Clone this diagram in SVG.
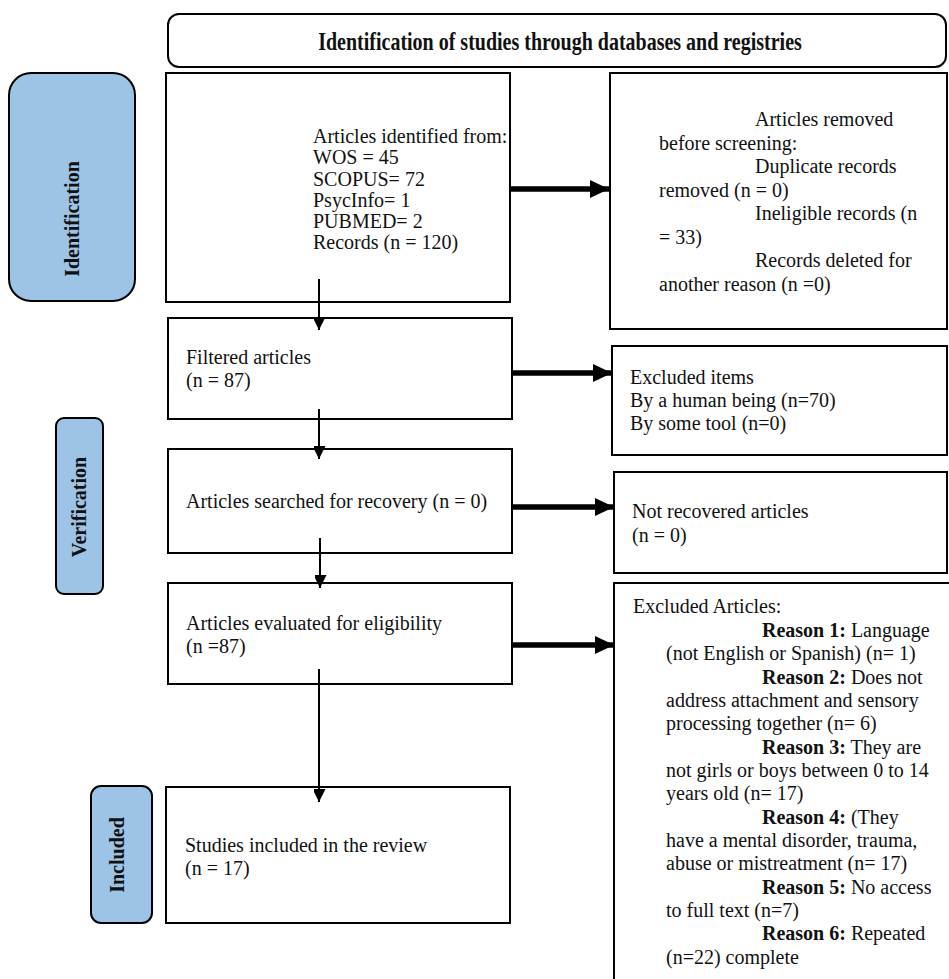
<svg xmlns="http://www.w3.org/2000/svg" width="949" height="979" viewBox="0 0 949 979">
<defs>
<style>
.box{fill:#fff;stroke:#000;stroke-width:2}
.side{fill:#9dc3e6;stroke:#000;stroke-width:2}
.t{font-family:"Liberation Serif","Times New Roman",serif;font-size:20px;fill:#111}
.b{font-weight:bold}
.thin{stroke:#000;stroke-width:2;fill:none}
.thick{stroke:#000;stroke-width:5.5;fill:none}
</style>
<marker id="hv" markerUnits="userSpaceOnUse" markerWidth="14" markerHeight="12" refX="13" refY="6.5" orient="auto"><path d="M0,0 L13,6.5 L0,13 Z" fill="#000"/></marker>
<marker id="hh" markerUnits="userSpaceOnUse" markerWidth="20" markerHeight="18" refX="19" refY="9" orient="auto"><path d="M0,0 L19,9 L0,18 Z" fill="#000"/></marker>
</defs>
<rect width="949" height="979" fill="#fff"/>

<g id="header">
<rect class="box" x="168" y="14" width="778" height="53" rx="11"/>
<text class="t b" text-anchor="middle" font-size="20.5" transform="translate(560,50) scale(1,1.3)">Identification of studies through databases and registries</text>
</g>

<g id="stage-identification">
<rect class="side" x="9" y="73" width="126" height="228" rx="22"/>
<text class="t b" text-anchor="middle" transform="translate(79,219) rotate(-90)">Identification</text>
</g>
<g id="stage-verification">
<rect class="side" x="56" y="418" width="47" height="176" rx="8"/>
<text class="t b" text-anchor="middle" transform="translate(86,507) rotate(-90)">Verification</text>
</g>
<g id="stage-included">
<rect class="side" x="91" y="786" width="61" height="137" rx="10"/>
<text class="t b" text-anchor="middle" transform="translate(124,855) rotate(-90)">Included</text>
</g>

<g id="identified">
<rect class="box" x="166" y="73" width="344" height="229"/>
<text class="t" x="313" y="143">Articles identified from:</text>
<text class="t" x="313" y="164">WOS = 45</text>
<text class="t" x="313" y="185.5">SCOPUS= 72</text>
<text class="t" x="313" y="206.5">PsycInfo= 1</text>
<text class="t" x="313" y="228">PUBMED= 2</text>
<text class="t" x="313" y="249">Records (n = 120)</text>
</g>

<g id="removed">
<rect class="box" x="610" y="73" width="337" height="256"/>
<text class="t" x="755" y="126">Articles removed</text>
<text class="t" x="659" y="149.5">before screening:</text>
<text class="t" x="755" y="173">Duplicate records</text>
<text class="t" x="659" y="196.5">removed (n = 0)</text>
<text class="t" x="755" y="220">Ineligible records (n</text>
<text class="t" x="659" y="243.5">= 33)</text>
<text class="t" x="755" y="267">Records deleted for</text>
<text class="t" x="659" y="290.5">another reason (n =0)</text>
</g>

<g id="filtered">
<rect class="box" x="168" y="318" width="344" height="101"/>
<text class="t" x="186" y="364">Filtered articles</text>
<text class="t" x="186" y="387">(n = 87)</text>
</g>

<g id="excluded-items">
<rect class="box" x="612" y="346" width="335" height="109"/>
<text class="t" x="630" y="384">Excluded items</text>
<text class="t" x="630" y="407">By a human being (n=70)</text>
<text class="t" x="630" y="430">By some tool (n=0)</text>
</g>

<g id="recovery">
<rect class="box" x="168" y="449" width="344" height="104"/>
<text class="t" x="186" y="508">Articles searched for recovery (n = 0)</text>
</g>

<g id="not-recovered">
<rect class="box" x="614" y="472" width="333" height="101"/>
<text class="t" x="632" y="518">Not recovered articles</text>
<text class="t" x="632" y="542">(n = 0)</text>
</g>

<g id="eligibility">
<rect class="box" x="168" y="583" width="344" height="101"/>
<text class="t" x="186" y="630">Articles evaluated for eligibility</text>
<text class="t" x="186" y="653">(n =87)</text>
</g>

<g id="excluded-articles">
<rect class="box" x="614" y="583" width="340" height="410"/>
<text class="t" x="633" y="613">Excluded Articles:</text>
<text class="t" x="762" y="637"><tspan class="b">Reason 1:</tspan> Language</text>
<text class="t" x="666" y="660">(not English or Spanish) (n= 1)</text>
<text class="t" x="762" y="683.5"><tspan class="b">Reason 2:</tspan> Does not</text>
<text class="t" x="666" y="707">address attachment and sensory</text>
<text class="t" x="666" y="730">processing together (n= 6)</text>
<text class="t" x="762" y="753.5"><tspan class="b">Reason 3:</tspan> They are</text>
<text class="t" x="666" y="777">not girls or boys between 0 to 14</text>
<text class="t" x="666" y="800">years old (n= 17)</text>
<text class="t" x="762" y="823.5"><tspan class="b">Reason 4:</tspan> (They</text>
<text class="t" x="666" y="847">have a mental disorder, trauma,</text>
<text class="t" x="666" y="870">abuse or mistreatment (n= 17)</text>
<text class="t" x="762" y="893.5"><tspan class="b">Reason 5:</tspan> No access</text>
<text class="t" x="666" y="917">to full text (n=7)</text>
<text class="t" x="762" y="940"><tspan class="b">Reason 6:</tspan> Repeated</text>
<text class="t" x="666" y="964">(n=22) complete</text>
</g>

<g id="included">
<rect class="box" x="166" y="787" width="344" height="136"/>
<text class="t" x="185" y="852">Studies included in the review</text>
<text class="t" x="185" y="875">(n = 17)</text>
</g>

<g id="connectors">
<line class="thin" x1="319" y1="279" x2="319" y2="330" marker-end="url(#hv)"/>
<line class="thin" x1="319" y1="409" x2="319" y2="459" marker-end="url(#hv)"/>
<line class="thin" x1="320" y1="538" x2="320" y2="588" marker-end="url(#hv)"/>
<line class="thin" x1="319" y1="669" x2="319" y2="802" marker-end="url(#hv)"/>
<line class="thick" x1="510" y1="189" x2="609" y2="189" marker-end="url(#hh)"/>
<line class="thick" x1="512" y1="373" x2="612" y2="373" marker-end="url(#hh)"/>
<line class="thick" x1="512" y1="507" x2="614" y2="507" marker-end="url(#hh)"/>
<line class="thick" x1="512" y1="645" x2="614" y2="645" marker-end="url(#hh)"/>
</g>
</svg>
